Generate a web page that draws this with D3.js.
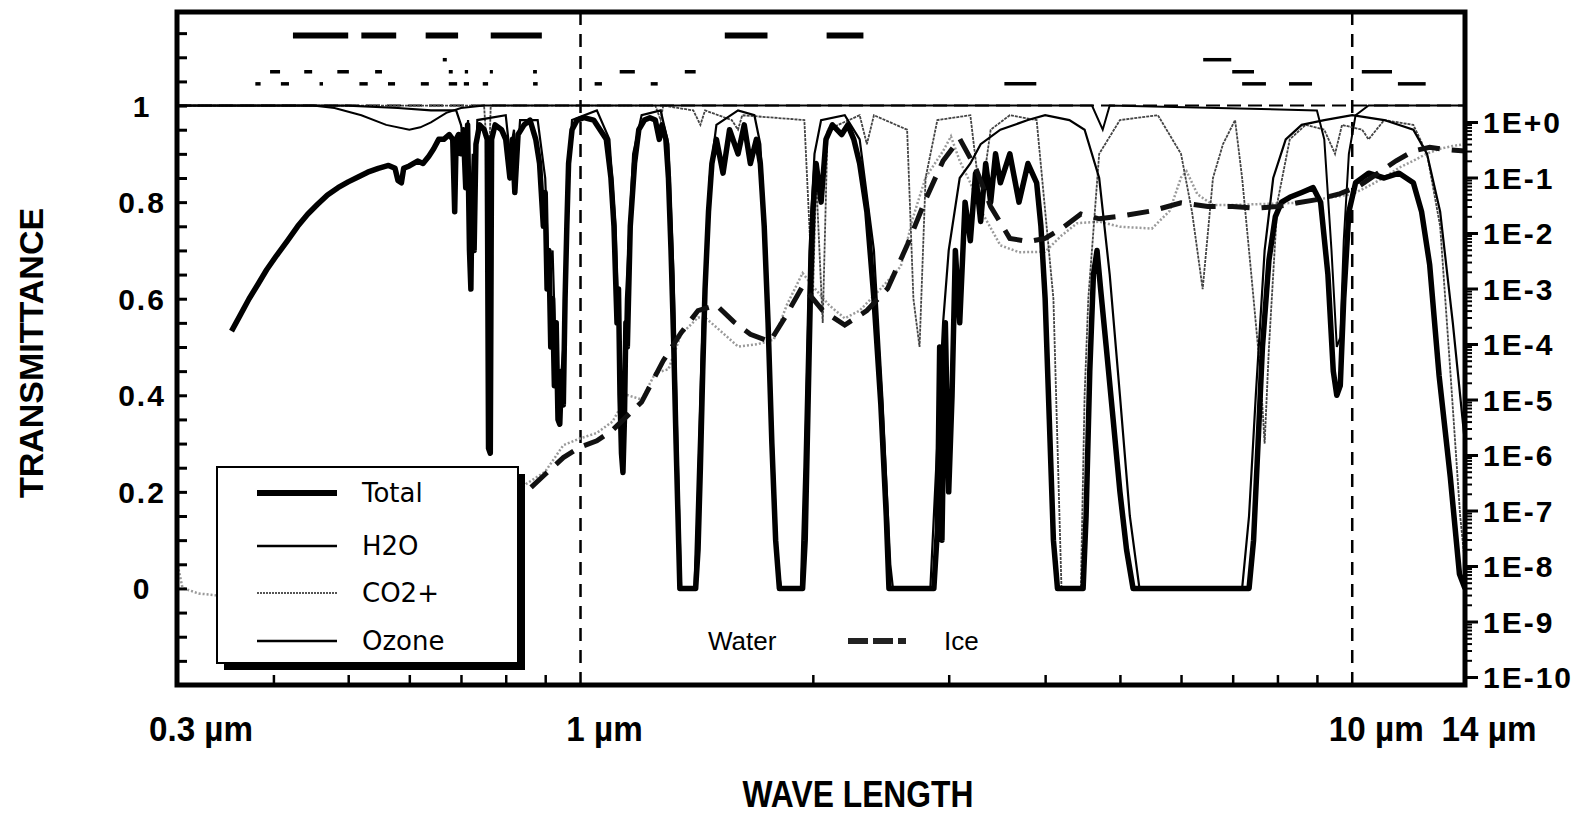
<!DOCTYPE html>
<html>
<head>
<meta charset="utf-8">
<script src="https://cdn.jsdelivr.net/npm/d3@7/dist/d3.min.js"></script>
<style>
body { margin: 0; background: #fff; }
text { fill: #000; }
</style>
</head>
<body>
<script>
// transmittance curves, [wavelength (µm), transmittance]
var totalCurve = [[0.353,0.533],[0.362,0.565],[0.372,0.60],[0.382,0.63],[0.392,0.66],[0.404,0.69],[0.417,0.72],[0.43,0.75],[0.443,0.775],[0.456,0.795],[0.47,0.815],[0.485,0.83],[0.5,0.842],[0.515,0.852],[0.53,0.862],[0.547,0.87],[0.564,0.876],[0.575,0.87],[0.58,0.845],[0.586,0.84],[0.59,0.87],[0.6,0.875],[0.615,0.885],[0.625,0.88],[0.636,0.895],[0.645,0.91],[0.655,0.93],[0.665,0.93],[0.676,0.94],[0.683,0.93],[0.687,0.78],[0.69,0.93],[0.695,0.94],[0.7,0.9],[0.705,0.95],[0.71,0.83],[0.714,0.96],[0.718,0.7],[0.721,0.62],[0.724,0.85],[0.728,0.7],[0.732,0.92],[0.74,0.96],[0.75,0.95],[0.757,0.93],[0.76,0.29],[0.764,0.28],[0.767,0.93],[0.775,0.96],[0.79,0.95],[0.8,0.93],[0.81,0.85],[0.816,0.93],[0.822,0.82],[0.83,0.94],[0.845,0.96],[0.86,0.97],[0.875,0.93],[0.885,0.88],[0.895,0.75],[0.9,0.82],[0.905,0.62],[0.91,0.7],[0.915,0.5],[0.92,0.6],[0.925,0.42],[0.93,0.55],[0.935,0.35],[0.94,0.34],[0.945,0.45],[0.95,0.38],[0.955,0.6],[0.96,0.75],[0.965,0.88],[0.975,0.95],[0.99,0.97],[1.01,0.975],[1.04,0.97],[1.06,0.95],[1.08,0.93],[1.095,0.85],[1.105,0.75],[1.115,0.55],[1.12,0.62],[1.125,0.4],[1.13,0.28],[1.135,0.24],[1.14,0.35],[1.145,0.55],[1.15,0.5],[1.16,0.75],[1.175,0.88],[1.19,0.95],[1.21,0.97],[1.23,0.975],[1.25,0.97],[1.265,0.93],[1.275,0.96],[1.29,0.93],[1.3,0.85],[1.31,0.7],[1.32,0.52],[1.33,0.3],[1.34,0.1],[1.345,0],[1.41,0],[1.42,0.08],[1.43,0.25],[1.44,0.45],[1.45,0.62],[1.465,0.78],[1.48,0.88],[1.5,0.93],[1.53,0.86],[1.56,0.95],[1.6,0.9],[1.63,0.96],[1.66,0.88],[1.69,0.93],[1.71,0.88],[1.73,0.75],[1.75,0.55],[1.77,0.3],[1.79,0.1],[1.81,0],[1.94,0],[1.955,0.1],[1.97,0.35],[1.985,0.6],[2.0,0.78],[2.02,0.88],[2.05,0.8],[2.08,0.93],[2.12,0.96],[2.18,0.94],[2.22,0.96],[2.26,0.93],[2.3,0.88],[2.35,0.78],[2.4,0.6],[2.45,0.38],[2.49,0.15],[2.51,0],[2.87,0],[2.9,0.12],[2.92,0.5],[2.94,0.1],[2.97,0.55],[3.0,0.2],[3.03,0.4],[3.06,0.7],[3.1,0.55],[3.15,0.8],[3.2,0.72],[3.25,0.86],[3.3,0.76],[3.35,0.88],[3.4,0.8],[3.45,0.9],[3.5,0.84],[3.6,0.9],[3.7,0.8],[3.8,0.88],[3.9,0.84],[3.95,0.75],[4.0,0.6],[4.05,0.35],[4.1,0.1],[4.15,0],[4.48,0],[4.52,0.15],[4.57,0.45],[4.62,0.65],[4.67,0.7],[4.72,0.62],[4.8,0.5],[4.9,0.35],[5.0,0.2],[5.1,0.08],[5.2,0],[7.35,0],[7.45,0.1],[7.55,0.3],[7.65,0.5],[7.8,0.68],[7.95,0.77],[8.1,0.8],[8.3,0.81],[8.6,0.82],[8.9,0.83],[9.1,0.8],[9.3,0.65],[9.45,0.45],[9.55,0.4],[9.65,0.42],[9.75,0.6],[9.9,0.78],[10.1,0.84],[10.5,0.86],[11.0,0.85],[11.5,0.86],[12.0,0.84],[12.3,0.78],[12.6,0.67],[12.96,0.44],[13.4,0.23],[13.77,0.03],[14.0,0]];

var h2oCurve = [[0.3,1.0],[0.5,1.0],[0.58,0.995],[0.64,0.99],[0.69,0.99],[0.7,0.96],[0.71,0.9],[0.715,0.97],[0.72,0.75],[0.725,0.9],[0.73,0.8],[0.735,0.97],[0.8,0.98],[0.81,0.9],[0.82,0.95],[0.825,0.85],[0.835,0.97],[0.88,0.97],[0.9,0.85],[0.91,0.65],[0.92,0.7],[0.93,0.45],[0.94,0.4],[0.95,0.5],[0.96,0.82],[0.975,0.97],[1.05,0.99],[1.09,0.93],[1.11,0.75],[1.125,0.45],[1.135,0.32],[1.145,0.6],[1.17,0.9],[1.2,0.98],[1.27,0.99],[1.3,0.92],[1.32,0.65],[1.335,0.3],[1.35,0],[1.405,0],[1.42,0.25],[1.44,0.55],[1.47,0.85],[1.5,0.96],[1.6,0.99],[1.68,0.98],[1.71,0.92],[1.74,0.7],[1.77,0.35],[1.8,0.05],[1.82,0],[1.93,0],[1.95,0.25],[1.98,0.7],[2.01,0.9],[2.05,0.97],[2.2,0.98],[2.3,0.93],[2.4,0.7],[2.46,0.4],[2.52,0.05],[2.54,0],[2.84,0],[2.9,0.3],[2.95,0.55],[3.0,0.7],[3.1,0.85],[3.2,0.88],[3.3,0.92],[3.5,0.95],[3.8,0.97],[4.0,0.98],[4.3,0.97],[4.5,0.95],[4.7,0.85],[4.85,0.65],[5.0,0.4],[5.15,0.15],[5.3,0],[7.2,0],[7.35,0.15],[7.5,0.4],[7.7,0.7],[7.9,0.85],[8.2,0.93],[8.6,0.96],[9.2,0.97],[10.0,0.98],[11.0,0.97],[12.0,0.95],[12.5,0.9],[13.0,0.78],[13.5,0.55],[14.0,0.3]];

var co2Curve = [[0.3,1],[0.75,1],[0.76,0.85],[0.765,1],[1.25,1],[1.27,0.97],[1.28,1],[1.4,0.99],[1.43,0.96],[1.45,0.99],[1.57,0.97],[1.6,0.95],[1.62,0.98],[1.95,0.97],[2.0,0.6],[2.02,0.85],[2.06,0.55],[2.09,0.95],[2.3,0.98],[2.35,0.92],[2.4,0.98],[2.65,0.95],[2.7,0.6],[2.75,0.5],[2.8,0.85],[2.9,0.97],[3.2,0.98],[3.3,0.8],[3.4,0.95],[3.6,0.98],[3.9,0.97],[4.1,0.6],[4.2,0],[4.45,0],[4.5,0.4],[4.55,0.6],[4.7,0.9],[5.0,0.97],[5.6,0.98],[6.0,0.9],[6.2,0.78],[6.4,0.62],[6.6,0.85],[6.8,0.92],[7.05,0.97],[7.2,0.85],[7.4,0.65],[7.6,0.45],[7.7,0.3],[7.8,0.5],[8.0,0.8],[8.3,0.93],[8.7,0.96],[9.2,0.95],[9.5,0.9],[9.7,0.96],[10.3,0.95],[10.5,0.93],[11.0,0.97],[12.0,0.96],[12.5,0.9],[13.0,0.75],[13.4,0.45],[13.8,0.15],[14.0,0.05]];

var ozoneCurve = [[0.3,1],[0.45,1],[0.48,0.995],[0.52,0.98],[0.56,0.96],[0.6,0.95],[0.62,0.955],[0.64,0.965],[0.67,0.985],[0.7,0.995],[0.75,1],[4.6,1],[4.75,0.95],[4.85,1],[9.0,0.99],[9.2,0.93],[9.4,0.7],[9.55,0.5],[9.65,0.52],[9.75,0.72],[9.9,0.9],[10.1,0.98],[10.5,1],[14.0,1]];

// absorption index curves on the right log axis, [wavelength (µm), k]
var waterCurve = [[0.3,1.2e-8],[0.305,4e-9],[0.32,3.2e-9],[0.35,2.8e-9],[0.4,2e-9],[0.5,1.2e-9],[0.6,1.2e-8],[0.7,3.5e-8],[0.75,1.5e-7],[0.8,1.3e-7],[0.85,3e-7],[0.9,5e-7],[0.95,1.5e-6],[1.0,2e-6],[1.05,2.5e-6],[1.1,4e-6],[1.15,1.2e-5],[1.2,1e-5],[1.25,3e-5],[1.3,3.5e-5],[1.35,1.5e-4],[1.42,3e-4],[1.45,3e-4],[1.5,2e-4],[1.6,9e-5],[1.7,1e-4],[1.78,1.2e-4],[1.85,5e-4],[1.94,1.9e-3],[2.0,1.1e-3],[2.1,5e-4],[2.2,2.9e-4],[2.3,4e-4],[2.45,1e-3],[2.6,2.5e-3],[2.7,2e-2],[2.8,0.1],[2.95,0.3],[3.02,0.55],[3.1,0.2],[3.2,0.08],[3.3,0.026],[3.5,0.006],[3.7,0.0045],[4.0,0.0046],[4.2,0.009],[4.4,0.015],[4.7,0.016],[5.0,0.013],[5.5,0.012],[5.8,0.025],[6.0,0.1],[6.1,0.13],[6.3,0.05],[6.6,0.032],[7.0,0.032],[7.5,0.033],[8.0,0.034],[8.5,0.035],[9.0,0.04],[9.5,0.045],[10.0,0.05],[10.5,0.07],[11.0,0.1],[11.5,0.15],[12.0,0.2],[12.5,0.27],[13.0,0.33],[13.5,0.37],[14.0,0.4]];

var iceCurve = [[0.6,2e-9],[0.7,1e-8],[0.8,8e-8],[0.835,1.7e-7],[0.9,4.5e-7],[0.95,9e-7],[1.0,1.4e-6],[1.05,1.8e-6],[1.1,2.8e-6],[1.2,9e-6],[1.28,5e-5],[1.35,1.6e-4],[1.42,4e-4],[1.5,5e-4],[1.58,2.5e-4],[1.66,1.5e-4],[1.76,1.1e-4],[1.84,3e-4],[1.94,1.1e-3],[2.06,4e-4],[2.2,2.2e-4],[2.35,4e-4],[2.5,1e-3],[2.65,6e-3],[2.8,0.04],[2.95,0.2],[3.1,0.5],[3.25,0.15],[3.4,0.03],[3.6,0.008],[3.8,0.007],[4.0,0.008],[4.2,0.012],[4.45,0.022],[4.7,0.018],[5.0,0.02],[5.5,0.025],[6.0,0.035],[6.5,0.03],[7.0,0.03],[7.5,0.028],[8.0,0.03],[8.5,0.035],[9.0,0.04],[9.6,0.05],[10.2,0.07],[10.8,0.12],[11.4,0.2],[12.0,0.3],[12.6,0.35],[13.2,0.32],[14.0,0.3]];

// band markers above the plot, [start, end] in µm, one list per row
var bandRow1 = [[0.424,0.5],[0.52,0.577],[0.63,0.694],[0.765,0.891],[1.538,1.747],[2.084,2.326]];
var bandRow2 = [[0.663,0.671],[6.41,6.97]];
var bandRow3 = [[0.396,0.408],[0.4385,0.449],[0.484,0.501],[0.5418,0.553],[0.675,0.683],[0.708,0.715],[0.763,0.77],[0.868,0.878],[1.124,1.176],[1.365,1.41],[6.99,7.46],[10.29,11.26]];
var bandRow4 = [[0.379,0.385],[0.409,0.419],[0.459,0.4638],[0.517,0.53],[0.563,0.575],[0.621,0.636],[0.675,0.692],[0.706,0.717],[0.747,0.759],[0.868,0.88],[1.043,1.066],[1.233,1.259],[3.542,3.896],[7.2,7.73],[8.28,8.87],[11.46,12.45]];
var bandRowLevels = [1.145, 1.095, 1.07, 1.045];

var xMinorTicks = [0.4,0.5,0.6,0.7,0.8,0.9,2,3,4,5,6,7,8,9];
var xLabelValues = [0.3, 1, 10, 14];
var xLabelTexts = ["0.3 µm", "1 µm", "10 µm", "14 µm"];
var yLabelValues = [1, 0.8, 0.6, 0.4, 0.2, 0];
var yLabelTexts = ["1", "0.8", "0.6", "0.4", "0.2", "0"];
var rightValues = [1,1e-1,1e-2,1e-3,1e-4,1e-5,1e-6,1e-7,1e-8,1e-9,1e-10];
var rightTexts = ["1E+0","1E-1","1E-2","1E-3","1E-4","1E-5","1E-6","1E-7","1E-8","1E-9","1E-10"];
var legendNames = ["Total", "H2O", "CO2+", "Ozone"];

var w = 1592, h = 814;
var plotL = 177, plotR = 1465, plotT = 12, plotB = 685;

var svg = d3.select('body').append('svg')
    .attr('width', w)
    .attr('height', h)
    .style('font-family', '"Liberation Sans", Arial, sans-serif');

var x = d3.scaleLog().domain([0.3, 14]).range([plotL, plotR]);
var y = d3.scaleLinear().domain([-0.2, 1.2]).range([685, 9]);
var yR = d3.scaleLog().domain([1e-10, 1]).range([677, 122]);

svg.append('clipPath').attr('id', 'plot')
    .append('rect')
    .attr('x', plotL).attr('y', plotT)
    .attr('width', plotR - plotL).attr('height', plotB - plotT);

var g = svg.append('g').attr('clip-path', 'url(#plot)');

// reference dashes: T = 1, 1 µm and 10 µm
g.append('line')
    .attr('x1', plotL).attr('x2', plotR)
    .attr('y1', y(1)).attr('y2', y(1))
    .attr('stroke', '#000').attr('stroke-width', 2)
    .attr('stroke-dasharray', '14,7');

g.selectAll('.vref')
    .data([1, 10])
    .enter()
    .append('line')
    .attr('x1', function (d) { return x(d); })
    .attr('x2', function (d) { return x(d); })
    .attr('y1', plotT).attr('y2', plotB)
    .attr('stroke', '#000').attr('stroke-width', 2.5)
    .attr('stroke-dasharray', '13,9');

var line = d3.line()
    .x(function (d) { return x(d[0]); })
    .y(function (d) { return y(d[1]); });

var lineR = d3.line()
    .x(function (d) { return x(d[0]); })
    .y(function (d) { return yR(d[1]); });

g.append('path').datum(waterCurve)
    .attr('d', lineR)
    .attr('fill', 'none').attr('stroke', '#9a9a9a')
    .attr('stroke-width', 2.5).attr('stroke-dasharray', '2,2');

g.append('path').datum(co2Curve)
    .attr('d', line)
    .attr('fill', 'none').attr('stroke', '#444')
    .attr('stroke-width', 1.8).attr('stroke-dasharray', '3,1');

g.append('path').datum(ozoneCurve)
    .attr('d', line)
    .attr('fill', 'none').attr('stroke', '#000')
    .attr('stroke-width', 2);

g.append('path').datum(h2oCurve)
    .attr('d', line)
    .attr('fill', 'none').attr('stroke', '#000')
    .attr('stroke-width', 2.2);

g.append('path').datum(totalCurve)
    .attr('d', line)
    .attr('fill', 'none').attr('stroke', '#000')
    .attr('stroke-width', 5.5).attr('stroke-linejoin', 'round');

g.append('path').datum(iceCurve)
    .attr('d', lineR)
    .attr('fill', 'none').attr('stroke', '#111')
    .attr('stroke-width', 5).attr('stroke-dasharray', '22,12');

// band markers
[bandRow1, bandRow2, bandRow3, bandRow4].forEach(function (row, i) {
    g.selectAll('.band' + i)
        .data(row)
        .enter()
        .append('line')
        .attr('x1', function (d) { return x(d[0]); })
        .attr('x2', function (d) { return x(d[1]); })
        .attr('y1', y(bandRowLevels[i]))
        .attr('y2', y(bandRowLevels[i]))
        .attr('stroke', '#000')
        .attr('stroke-width', i == 0 ? 6 : 3.5);
});

// legend box with shadow
svg.append('rect')
    .attr('x', 224).attr('y', 474).attr('width', 301).attr('height', 196)
    .attr('fill', '#000');
svg.append('rect')
    .attr('x', 217).attr('y', 467).attr('width', 301).attr('height', 196)
    .attr('fill', '#fff').attr('stroke', '#000').attr('stroke-width', 2);

var legendY = [493, 546, 593, 641];
var legendStyle = [
    {w: 6, c: '#000', dash: null},
    {w: 2.5, c: '#000', dash: null},
    {w: 2, c: '#555', dash: '2,1'},
    {w: 2.5, c: '#000', dash: null}
];
legendNames.forEach(function (name, i) {
    svg.append('line')
        .attr('x1', 257).attr('x2', 337)
        .attr('y1', legendY[i]).attr('y2', legendY[i])
        .attr('stroke', legendStyle[i].c)
        .attr('stroke-width', legendStyle[i].w)
        .attr('stroke-dasharray', legendStyle[i].dash);
    svg.append('text')
        .attr('x', 362).attr('y', legendY[i] + 9)
        .style('font-family', '"DejaVu Sans", sans-serif')
        .style('font-size', '26px')
        .text(name);
});

// Water / Ice key
svg.append('text')
    .attr('x', 708).attr('y', 650)
    .style('font-size', '26px')
    .text('Water');
svg.selectAll('.icekey')
    .data([[848, 868], [873, 893], [898, 906]])
    .enter()
    .append('line')
    .attr('x1', function (d) { return d[0]; })
    .attr('x2', function (d) { return d[1]; })
    .attr('y1', 641).attr('y2', 641)
    .attr('stroke', '#222').attr('stroke-width', 6);
svg.append('text')
    .attr('x', 944).attr('y', 650)
    .style('font-size', '26px')
    .text('Ice');

// left ticks every 0.05, pointing inward
var yTickPos = d3.range(-0.15, 1.1999, 0.05);
var leftAxis = svg.append('g')
    .attr('transform', 'translate(' + plotL + ',0)')
    .call(d3.axisRight(y).tickValues(yTickPos).tickSize(10).tickFormat(''));
leftAxis.select('.domain').remove();
leftAxis.selectAll('line').attr('stroke-width', 3);

// bottom ticks, pointing inward
var bottomAxis = svg.append('g')
    .attr('transform', 'translate(0,' + plotB + ')')
    .call(d3.axisTop(x).tickValues(xMinorTicks).tickSize(10).tickFormat(''));
bottomAxis.select('.domain').remove();
bottomAxis.selectAll('line').attr('stroke-width', 2.5);

// right log axis, ticks outward
var rightMinor = [];
for (var k = -10; k < 0; k++) {
    for (var m = 2; m <= 9; m++) rightMinor.push(m * Math.pow(10, k));
}
var rAxisMinor = svg.append('g')
    .attr('transform', 'translate(' + plotR + ',0)')
    .call(d3.axisRight(yR).tickValues(rightMinor).tickSize(7).tickFormat(''));
rAxisMinor.select('.domain').remove();
rAxisMinor.selectAll('line').attr('stroke-width', 2);

var rAxisMajor = svg.append('g')
    .attr('transform', 'translate(' + plotR + ',0)')
    .call(d3.axisRight(yR).tickValues(rightValues).tickSize(13).tickFormat(''));
rAxisMajor.select('.domain').remove();
rAxisMajor.selectAll('line').attr('stroke-width', 3);

// frame
svg.append('rect')
    .attr('x', plotL).attr('y', plotT)
    .attr('width', plotR - plotL).attr('height', plotB - plotT)
    .attr('fill', 'none').attr('stroke', '#000').attr('stroke-width', 5);

// tick labels
svg.selectAll('.ylab')
    .data(yLabelValues)
    .enter()
    .append('text')
    .attr('x', 142)
    .attr('y', function (d) { return y(d) + 11; })
    .attr('text-anchor', 'middle')
    .style('font-size', '30px').style('font-weight', 'bold')
    .style('letter-spacing', '2px')
    .text(function (d, i) { return yLabelTexts[i]; });

svg.selectAll('.rlab')
    .data(rightValues)
    .enter()
    .append('text')
    .attr('x', 1483)
    .attr('y', function (d) { return yR(d) + 11; })
    .style('font-size', '30px').style('font-weight', 'bold')
    .style('letter-spacing', '2px')
    .text(function (d, i) { return rightTexts[i]; });

svg.selectAll('.xlab')
    .data(xLabelValues)
    .enter()
    .append('text')
    .attr('transform', function (d) {
        return 'translate(' + (x(d) + 24) + ',741) scale(0.95,1)';
    })
    .attr('text-anchor', 'middle')
    .style('font-size', '35px').style('font-weight', 'bold')
    .text(function (d, i) { return xLabelTexts[i]; });

// axis titles
svg.append('text')
    .attr('transform', 'translate(858,807) scale(0.86,1)')
    .attr('text-anchor', 'middle')
    .style('font-size', '37px').style('font-weight', 'bold')
    .text('WAVE LENGTH');

svg.append('text')
    .attr('transform', 'translate(43,353) rotate(-90)')
    .attr('text-anchor', 'middle')
    .style('font-size', '34px').style('font-weight', 'bold')
    .text('TRANSMITTANCE');
</script>
</body>
</html>
